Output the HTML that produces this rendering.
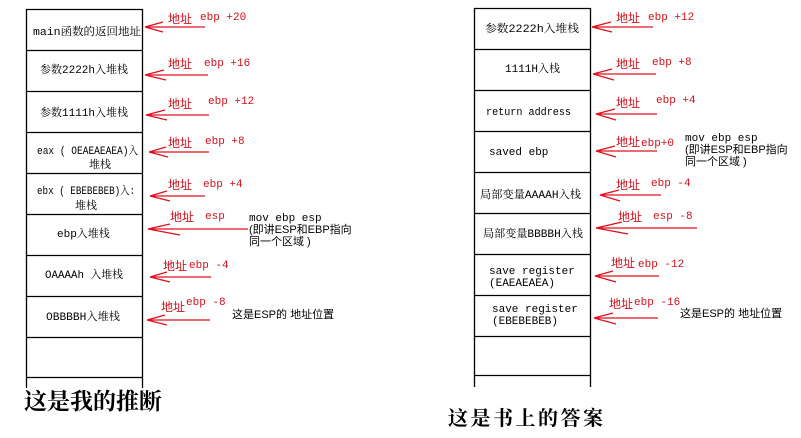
<!DOCTYPE html>
<html><head><meta charset="utf-8"><style>
html,body{margin:0;padding:0;background:#fff;width:801px;height:438px;overflow:hidden}
svg{display:block}
.b{font-family:"Liberation Mono","Noto Serif CJK SC",monospace;font-size:11px;fill:#000}
.r{font-family:"Liberation Sans","Noto Sans CJK SC",sans-serif;font-size:12px;fill:#d0101e}
.re{font-family:"Liberation Mono",monospace;font-size:11px;fill:#d0101e}
.k{font-family:"Liberation Sans","Noto Sans CJK SC",sans-serif;font-size:11px;fill:#000}
.km{font-family:"Liberation Mono","Noto Sans CJK SC",monospace;font-size:11px;fill:#000}
</style></head><body>
<svg width="801" height="438" xmlns="http://www.w3.org/2000/svg">
<g stroke="#000" stroke-width="1.3" fill="none">
<line x1="26.5" y1="9" x2="26.5" y2="388"/><line x1="142.5" y1="9" x2="142.5" y2="388"/>
<line x1="26" y1="9.5" x2="143" y2="9.5"/><line x1="26" y1="50.5" x2="143" y2="50.5"/><line x1="26" y1="91.5" x2="143" y2="91.5"/><line x1="26" y1="132.5" x2="143" y2="132.5"/><line x1="26" y1="173.5" x2="143" y2="173.5"/><line x1="26" y1="214.5" x2="143" y2="214.5"/><line x1="26" y1="255.5" x2="143" y2="255.5"/><line x1="26" y1="296.5" x2="143" y2="296.5"/><line x1="26" y1="337.5" x2="143" y2="337.5"/><line x1="26" y1="377.5" x2="143" y2="377.5"/>
<line x1="474.5" y1="8" x2="474.5" y2="387"/><line x1="590.5" y1="8" x2="590.5" y2="387"/>
<line x1="474" y1="8.5" x2="591" y2="8.5"/><line x1="474" y1="49.5" x2="591" y2="49.5"/><line x1="474" y1="90.5" x2="591" y2="90.5"/><line x1="474" y1="131.5" x2="591" y2="131.5"/><line x1="474" y1="172.5" x2="591" y2="172.5"/><line x1="474" y1="213.5" x2="591" y2="213.5"/><line x1="474" y1="254.5" x2="591" y2="254.5"/><line x1="474" y1="295.5" x2="591" y2="295.5"/><line x1="474" y1="336.5" x2="591" y2="336.5"/><line x1="474" y1="375.5" x2="591" y2="375.5"/>
</g>
<g stroke="#e0101e" stroke-width="1.2" fill="none">
<path d="M145 27H205M145 27L163 22M145 27L163 32"/>
<path d="M145 75H208M145 75L164 70M145 75L166 80"/>
<path d="M146 115H209M146 115L165 110M146 115L167 120"/>
<path d="M149 152H209M149 152L166 147M149 152L168 157"/>
<path d="M150 196H205M150 196L167 191M150 196L170 201"/>
<path d="M148 229H248M148 229L170 224M148 229L180 235"/>
<path d="M150 277H211M150 277L167 272M150 277L170 282"/>
<path d="M147 320H210M147 320L165 315M147 320L167 325"/>
<path d="M592 27H653M592 27L611 22M592 27L612 32"/>
<path d="M593 74H656M593 74L612 69M593 74L614 80"/>
<path d="M596 114H657M596 114L615 109M596 114L616 120"/>
<path d="M596 151H657M596 151L615 146M596 151L616 157"/>
<path d="M600 195H661M600 195L619 190M600 195L620 201"/>
<path d="M596 228H697M596 228L622 222M596 228L628 234"/>
<path d="M595 276H659M595 276L613 271M595 276L616 282"/>
<path d="M594 318H658M594 318L613 313M594 318L616 324"/>
</g>
<g class="b">
<text x="33" y="35" textLength="108" lengthAdjust="spacingAndGlyphs">main函数的返回地址</text>
<text x="40" y="73">参数2222h入堆栈</text>
<text x="40" y="116">参数1111h入堆栈</text>
<text x="37" y="154" textLength="101" lengthAdjust="spacingAndGlyphs">eax ( OEAEAEAEA)入</text><text x="89" y="168">堆栈</text>
<text x="37" y="194" textLength="98" lengthAdjust="spacingAndGlyphs">ebx ( EBEBEBEB)入:</text><text x="75" y="209">堆栈</text>
<text x="57" y="237">ebp入堆栈</text>
<text x="45" y="278" textLength="78" lengthAdjust="spacingAndGlyphs">OAAAAh 入堆栈</text>
<text x="46" y="320" textLength="74" lengthAdjust="spacingAndGlyphs">OBBBBH入堆栈</text>
<text x="485" y="32" textLength="94" lengthAdjust="spacingAndGlyphs">参数2222h入堆栈</text>
<text x="505" y="72">1111H入栈</text>
<text x="486" y="115" textLength="85" lengthAdjust="spacingAndGlyphs">return address</text>
<text x="489" y="155">saved  ebp</text>
<text x="480" y="198" textLength="101" lengthAdjust="spacingAndGlyphs">局部变量AAAAH入栈</text>
<text x="483" y="237" textLength="100" lengthAdjust="spacingAndGlyphs">局部变量BBBBH入栈</text>
<text x="489" y="274">save register</text><text x="489" y="286">(EAEAEAEA)</text>
<text x="492" y="312">save register</text><text x="492" y="324">(EBEBEBEB)</text>
</g>
<g class="r">
<text x="168" y="23">地址</text><text x="168" y="68">地址</text><text x="168" y="108">地址</text><text x="168" y="147">地址</text><text x="168" y="189">地址</text><text x="170" y="221">地址</text><text x="163" y="270">地址</text><text x="161" y="311">地址</text>
<text x="616" y="22">地址</text><text x="616" y="68">地址</text><text x="616" y="107">地址</text><text x="616" y="146">地址</text><text x="616" y="189">地址</text><text x="618" y="221">地址</text><text x="611" y="267">地址</text><text x="609" y="308">地址</text>
</g>
<g class="re">
<text x="200" y="20">ebp +20</text><text x="204" y="66">ebp +16</text><text x="208" y="104">ebp +12</text><text x="205" y="144">ebp +8</text><text x="203" y="187">ebp +4</text><text x="205" y="219">esp</text><text x="189" y="268">ebp -4</text><text x="186" y="305">ebp  -8</text>
<text x="648" y="20">ebp +12</text><text x="652" y="65">ebp +8</text><text x="656" y="103">ebp +4</text><text x="641" y="146">ebp+0</text><text x="651" y="186">ebp -4</text><text x="653" y="219">esp -8</text><text x="638" y="267">ebp  -12</text><text x="634" y="305">ebp -16</text>
</g>
<g class="km">
<text x="249" y="221">mov ebp esp</text><text x="685" y="141">mov ebp esp</text>
</g>
<g class="k">
<text x="249" y="233">(即讲ESP和EBP指向</text><text x="249" y="245">同一个区域 )</text>
<text x="685" y="153">(即讲ESP和EBP指向</text><text x="685" y="165">同一个区域 )</text>
<text x="232" y="318">这是ESP的 地址位置</text><text x="680" y="317">这是ESP的 地址位置</text>
</g>
<text x="24" y="409" style="font-family:'Noto Serif CJK SC','Noto Sans CJK SC',serif;font-size:23px;font-weight:bold" fill="#000">这是我的推断</text>
<text x="448" y="425" style="font-family:'Noto Serif CJK SC','Noto Sans CJK SC',serif;font-size:20px;font-weight:bold;letter-spacing:2.5px" fill="#000">这是书上的答案</text>
</svg>
</body></html>
